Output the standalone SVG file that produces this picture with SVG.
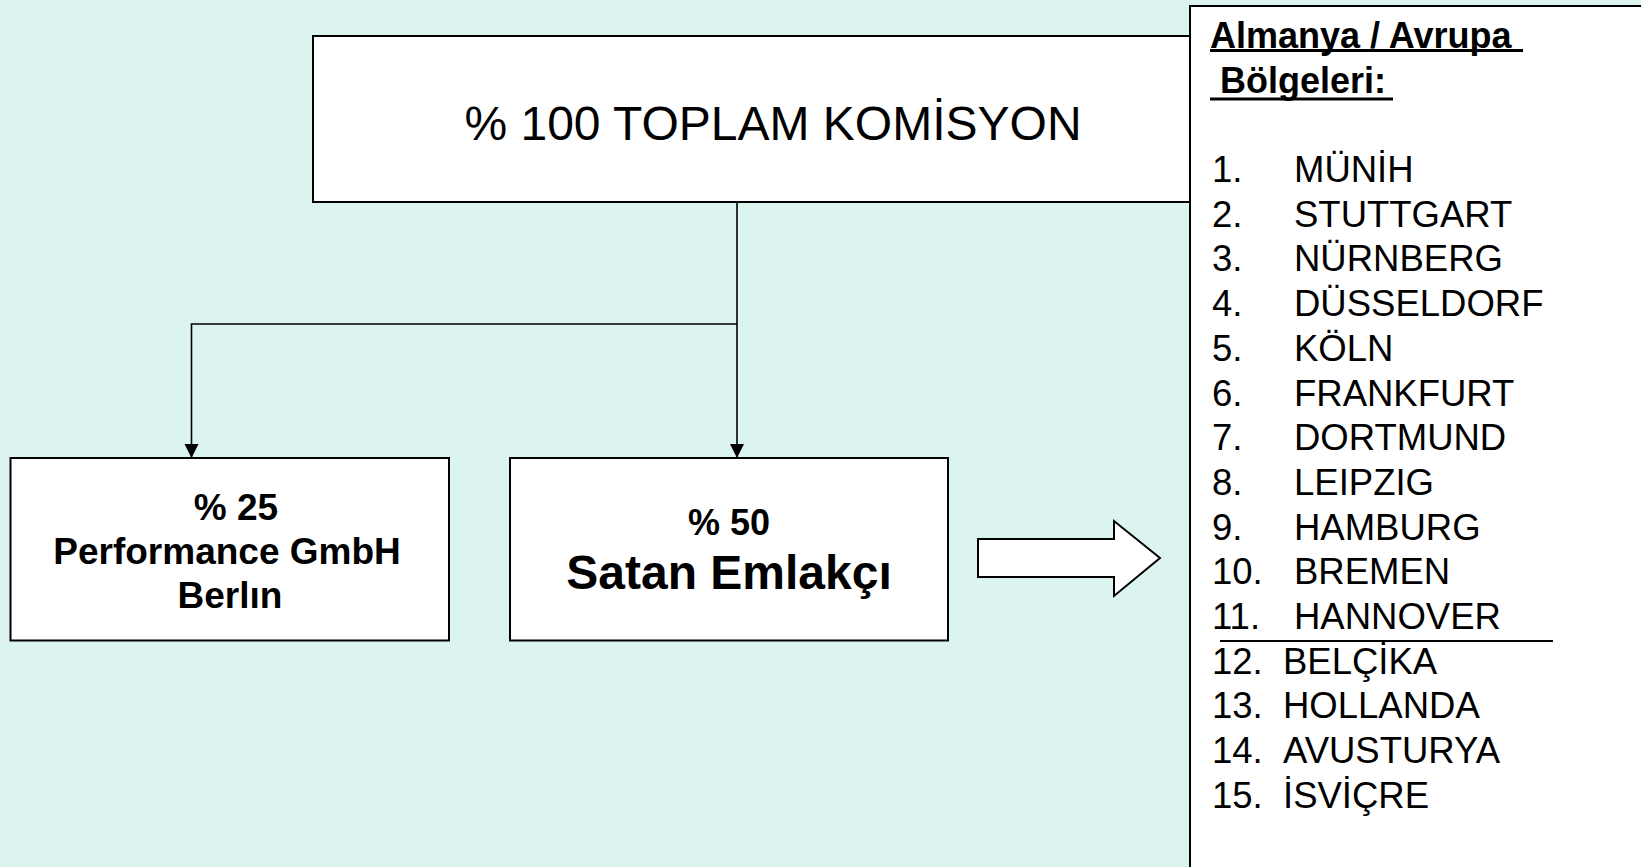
<svg xmlns="http://www.w3.org/2000/svg" width="1641" height="867" viewBox="0 0 1641 867">
<defs>
<style>
.box{fill:#fff;stroke:#000;stroke-width:2}
.con{fill:none;stroke:#000;stroke-width:1.6}
.t{font-family:"Liberation Sans",Arial,sans-serif;fill:#000}
.b{font-weight:bold}
.li{font-family:"Liberation Sans",Arial,sans-serif;font-size:36.5px;fill:#000}
</style>
<marker id="ah" viewBox="0 0 14 20" refX="14" refY="10" markerWidth="14" markerHeight="20" markerUnits="userSpaceOnUse" orient="auto">
<path d="M0,3 L14,10 L0,17 Z" fill="#000"/>
</marker>
</defs>
<rect width="1641" height="867" fill="#DCF4F0"/>
<g id="connectors">
<path class="con" d="M737,202 V458" marker-end="url(#ah)"/>
<path class="con" d="M737,324 H191.5 V458" marker-end="url(#ah)"/>
</g>
<g id="top">
<rect class="box" x="313" y="36" width="900" height="166"/>
<text class="t" x="773" y="140" font-size="48" text-anchor="middle">% 100 TOPLAM KOMİSYON</text>
</g>
<g id="left">
<rect class="box" x="10.5" y="458" width="438.5" height="182.5"/>
<text class="t b" font-size="37" text-anchor="middle"><tspan x="236" y="520">% 25</tspan><tspan x="227" y="564">Performance GmbH</tspan><tspan x="230" y="608">Berlın</tspan></text>
</g>
<g id="mid">
<rect class="box" x="510" y="458" width="438" height="182.5"/>
<text class="t b" font-size="36" text-anchor="middle" x="729" y="535">% 50</text>
<text class="t b" font-size="48" text-anchor="middle" x="729" y="589">Satan Emlakçı</text>
</g>
<g id="blockarrow">
<path d="M978,539 H1114 V521 L1160,558 L1114,596 V577 H978 Z" fill="#fff" stroke="#000" stroke-width="2"/>
</g>
<g id="list">
<rect class="box" x="1190" y="6" width="480" height="900"/>
<text class="t b" font-size="36" x="1210" y="48">Almanya / Avrupa</text>
<line x1="1210" y1="50.5" x2="1523" y2="50.5" stroke="#000" stroke-width="3"/>
<text class="t b" font-size="36" x="1210" y="93" xml:space="preserve"> Bölgeleri:</text>
<line x1="1210" y1="99" x2="1393" y2="99" stroke="#000" stroke-width="3"/>
<g class="li">
<text x="1212" y="182">1.</text><text x="1294" y="182">MÜNİH</text>
<text x="1212" y="226.7">2.</text><text x="1294" y="226.7">STUTTGART</text>
<text x="1212" y="271.4">3.</text><text x="1294" y="271.4">NÜRNBERG</text>
<text x="1212" y="316.1">4.</text><text x="1294" y="316.1">DÜSSELDORF</text>
<text x="1212" y="360.8">5.</text><text x="1294" y="360.8">KÖLN</text>
<text x="1212" y="405.5">6.</text><text x="1294" y="405.5">FRANKFURT</text>
<text x="1212" y="450.2">7.</text><text x="1294" y="450.2">DORTMUND</text>
<text x="1212" y="494.9">8.</text><text x="1294" y="494.9">LEIPZIG</text>
<text x="1212" y="539.6">9.</text><text x="1294" y="539.6">HAMBURG</text>
<text x="1212" y="584.3">10.</text><text x="1294" y="584.3">BREMEN</text>
<text x="1212" y="629">11.</text><text x="1294" y="629">HANNOVER</text>
<text x="1212" y="673.7">12.</text><text x="1283" y="673.7">BELÇİKA</text>
<text x="1212" y="718.4">13.</text><text x="1283" y="718.4">HOLLANDA</text>
<text x="1212" y="763.1">14.</text><text x="1283" y="763.1">AVUSTURYA</text>
<text x="1212" y="807.8">15.</text><text x="1283" y="807.8">İSVİÇRE</text>
</g>
<line x1="1220" y1="641" x2="1553" y2="641" stroke="#000" stroke-width="2"/>
</g>
</svg>
